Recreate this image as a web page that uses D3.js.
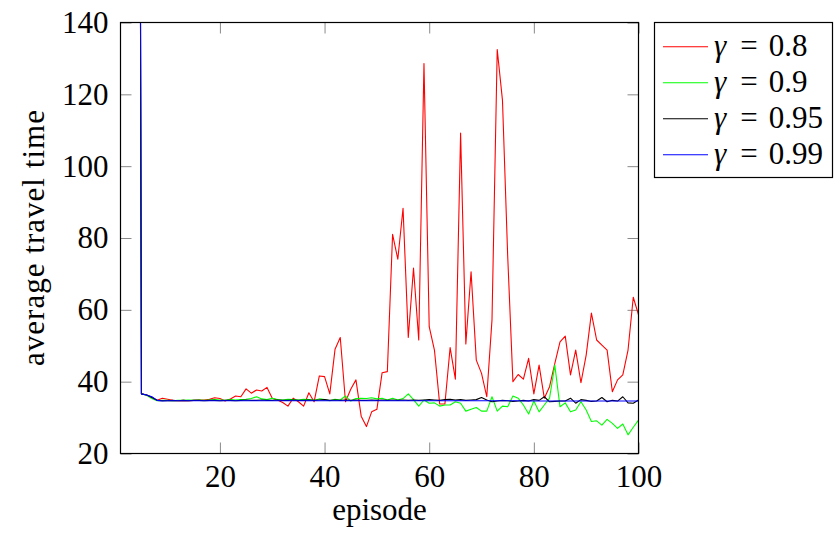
<!DOCTYPE html>
<html>
<head>
<meta charset="utf-8">
<script src="https://cdn.jsdelivr.net/npm/d3@7"></script>
<style>
  body { margin: 0; background: #fff; }
  svg text { font-family: "Liberation Serif", "DejaVu Serif", serif; fill: #000; }
</style>
</head>
<body>
<svg id="chart" width="834" height="533"></svg>
<script>
//=================== DATA ====================================
var episodes = [1, 2, 3, 4, 5, 6, 7, 8, 9, 10,
    11, 12, 13, 14, 15, 16, 17, 18, 19, 20,
    21, 22, 23, 24, 25, 26, 27, 28, 29, 30,
    31, 32, 33, 34, 35, 36, 37, 38, 39, 40,
    41, 42, 43, 44, 45, 46, 47, 48, 49, 50,
    51, 52, 53, 54, 55, 56, 57, 58, 59, 60,
    61, 62, 63, 64, 65, 66, 67, 68, 69, 70,
    71, 72, 73, 74, 75, 76, 77, 78, 79, 80,
    81, 82, 83, 84, 85, 86, 87, 88, 89, 90,
    91, 92, 93, 94, 95, 96, 97, 98, 99, 100];

// average travel time per episode, one array per discount factor
var gamma08 = [1850, 1400, 980, 640, 36.6, 36.3, 35.6, 34.8, 35.4, 35.1,
    34.8, 34.7, 34.8, 34.7, 34.8, 34.9, 34.9, 35.1, 35.5, 35.3,
    34.6, 35.2, 36.0, 35.8, 38.0, 36.8, 37.7, 37.4, 38.4, 35.4,
    34.9, 34.2, 33.2, 35.4, 34.4, 33.2, 36.9, 34.4, 41.6, 41.4,
    36.6, 49.0, 52.3, 34.4, 37.9, 40.5, 30.4, 27.5, 31.6, 32.3,
    42.5, 42.8, 81.0, 74.1, 88.3, 52.3, 71.6, 51.6, 128.6, 55.3,
    48.8, 33.8, 33.8, 49.5, 40.7, 109.2, 50.5, 70.6, 46.0, 42.3,
    35.8, 57.2, 132.5, 118.4, 75.0, 40.0, 42.0, 40.7, 46.5, 36.6,
    44.6, 35.4, 38.6, 45.0, 51.1, 52.7, 41.9, 48.8, 39.7, 47.4,
    59.1, 51.6, 50.2, 48.8, 37.2, 40.5, 41.9, 48.8, 63.5, 58.6];

var gamma09 = [1820, 1380, 960, 630, 36.6, 36.2, 35.3, 34.7, 34.8, 34.8,
    34.7, 34.8, 34.8, 34.9, 34.8, 34.9, 34.8, 34.9, 35.0, 34.9,
    34.8, 35.0, 34.9, 35.0, 35.1, 35.3, 35.8, 35.2, 35.0, 35.4,
    35.0, 34.9, 35.1, 35.0, 34.9, 35.1, 35.0, 34.8, 35.2, 35.0,
    34.7, 35.1, 34.9, 36.0, 34.6, 35.3, 35.4, 35.3, 35.5, 35.2,
    35.4, 34.9, 35.4, 34.9, 35.3, 36.6, 35.0, 33.2, 34.9, 34.0,
    34.1, 33.2, 33.5, 33.5, 34.4, 34.0, 31.8, 32.3, 32.8, 31.8,
    31.8, 35.8, 31.8, 33.2, 33.0, 36.0, 35.4, 33.5, 31.0, 34.6,
    31.6, 33.5, 35.4, 44.6, 33.0, 34.1, 31.6, 32.1, 34.4, 32.1,
    28.9, 29.1, 27.9, 29.5, 28.4, 27.0, 28.2, 25.2, 27.3, 29.3];

var gamma095 = [1800, 1360, 950, 620, 36.6, 36.3, 35.6, 34.8, 34.7, 34.7,
    34.8, 34.7, 34.8, 34.7, 34.8, 34.8, 34.7, 34.8, 34.8, 34.7,
    34.8, 34.8, 34.7, 34.8, 34.9, 34.8, 34.8, 34.9, 34.8, 34.8,
    34.9, 34.8, 34.8, 34.9, 34.8, 34.8, 34.9, 34.8, 34.9, 35.0,
    34.8, 34.9, 34.8, 34.9, 34.8, 34.9, 34.8, 34.8, 34.9, 34.8,
    34.9, 34.8, 34.9, 34.8, 34.9, 34.8, 34.9, 34.8, 34.9, 35.0,
    34.9, 34.8, 35.0, 35.1, 34.9, 35.0, 34.8, 34.9, 35.0, 35.6,
    34.9, 34.4, 34.6, 34.8, 34.7, 34.5, 34.6, 34.8, 34.6, 35.0,
    34.8, 35.8, 34.4, 34.5, 34.6, 34.6, 35.4, 34.0, 35.0, 34.8,
    34.5, 34.6, 35.6, 34.4, 34.8, 34.6, 35.8, 34.1, 34.0, 34.9];

var gamma099 = [1780, 1340, 940, 610, 36.6, 36.3, 35.8, 34.8, 34.6, 34.7,
    34.7, 34.7, 34.7, 34.7, 34.7, 34.7, 34.7, 34.7, 34.7, 34.7,
    34.7, 34.7, 34.7, 34.7, 34.7, 34.7, 34.7, 34.7, 34.7, 34.7,
    34.7, 34.7, 34.7, 34.7, 34.7, 34.7, 34.7, 34.7, 34.7, 34.7,
    34.7, 34.7, 34.7, 34.7, 34.7, 34.7, 34.7, 34.7, 34.7, 34.7,
    34.7, 34.7, 34.7, 34.7, 34.7, 34.7, 34.7, 34.7, 34.7, 34.7,
    34.7, 34.7, 34.7, 34.7, 34.7, 34.7, 34.7, 34.7, 34.7, 34.7,
    34.7, 34.7, 34.7, 34.7, 34.7, 34.7, 34.7, 34.6, 34.7, 34.6,
    34.6, 34.6, 34.6, 34.6, 34.6, 34.6, 34.6, 34.6, 34.6, 34.6,
    34.6, 34.6, 34.6, 34.6, 34.6, 34.6, 34.6, 34.6, 34.6, 34.6];

var seriesLabels = ["0.8", "0.9", "0.95", "0.99"];
var xTicks = [20, 40, 60, 80, 100];
var yTicks = [20, 40, 60, 80, 100, 120, 140];

//=================== LAYOUT ====================================
var series = [gamma08, gamma09, gamma095, gamma099];
var colours = ["#ff0000", "#00ff00", "#000000", "#0000ff"];

var plotLeft = 120.5, plotRight = 638.5, plotTop = 22.5, plotBottom = 453.5;
var tickLen = 11;
var fontSize = 31;

var svg = d3.select("#chart");

var x = d3.scaleLinear().domain([1, 100]).range([plotLeft, plotRight]);
var y = d3.scaleLinear().domain([20, 140]).range([plotBottom, plotTop]);

//clip the lines to the axis box (first episodes are far above 140)
svg.append("clipPath").attr("id", "plotClip")
    .append("rect")
    .attr("x", plotLeft).attr("y", plotTop)
    .attr("width", plotRight - plotLeft).attr("height", plotBottom - plotTop);

//=================== AXES ====================================
function styleAxis(g) {
    g.select(".domain").remove();
    g.selectAll(".tick line").attr("stroke", "#8a8a8a").attr("stroke-width", 1);
    g.attr("font-family", null).attr("font-size", fontSize);
    g.selectAll(".tick text").attr("fill", "#000");
}

svg.append("g")
    .attr("transform", "translate(0," + plotBottom + ")")
    .call(d3.axisBottom(x).tickValues(xTicks).tickSize(-tickLen).tickPadding(11))
    .call(styleAxis);

svg.append("g")
    .attr("transform", "translate(0," + plotTop + ")")
    .call(d3.axisTop(x).tickValues(xTicks).tickSize(-tickLen).tickFormat(""))
    .call(styleAxis);

svg.append("g")
    .attr("transform", "translate(" + plotLeft + ",0)")
    .call(d3.axisLeft(y).tickValues(yTicks).tickSize(-tickLen).tickPadding(12))
    .call(styleAxis);

svg.append("g")
    .attr("transform", "translate(" + plotRight + ",0)")
    .call(d3.axisRight(y).tickValues(yTicks).tickSize(-tickLen).tickFormat(""))
    .call(styleAxis);

//=================== LINES ====================================
var lineGen = d3.line()
    .x(function (d, i) { return x(episodes[i]); })
    .y(function (d) { return y(d); });

svg.append("g")
    .attr("clip-path", "url(#plotClip)")
    .selectAll("path")
    .data(series)
    .enter()
    .append("path")
    .attr("d", lineGen)
    .attr("fill", "none")
    .attr("stroke", function (d, i) { return colours[i]; })
    .attr("stroke-width", 1.1)
    .attr("stroke-linejoin", "round");

//axis box on top
svg.append("rect")
    .attr("x", plotLeft).attr("y", plotTop)
    .attr("width", plotRight - plotLeft).attr("height", plotBottom - plotTop)
    .attr("fill", "none")
    .attr("stroke", "#000")
    .attr("stroke-width", 1.2);

//axis titles
svg.append("text")
    .attr("x", (plotLeft + plotRight) / 2)
    .attr("y", 520)
    .attr("text-anchor", "middle")
    .attr("font-size", fontSize)
    .text("episode");

// the original font is wider, stretch the spacing a bit
svg.append("text")
    .attr("transform", "translate(44," + (plotTop + plotBottom) / 2 + ") rotate(-90)")
    .attr("text-anchor", "middle")
    .attr("font-size", fontSize)
    .attr("textLength", 256)
    .attr("lengthAdjust", "spacing")
    .text("average travel time");

//=================== LEGEND ====================================
var legend = svg.append("g");

legend.append("rect")
    .attr("x", 654.5).attr("y", 22.5)
    .attr("width", 178).attr("height", 155)
    .attr("fill", "#fff")
    .attr("stroke", "#000")
    .attr("stroke-width", 1.2);

var rows = legend.selectAll("g.entry")
    .data(seriesLabels)
    .enter()
    .append("g")
    .attr("class", "entry")
    .attr("transform", function (d, i) { return "translate(0," + (55.5 + i * 36) + ")"; });

rows.append("line")
    .attr("x1", 663).attr("x2", 708)
    .attr("y1", -8.8).attr("y2", -8.8)
    .attr("stroke", function (d, i) { return colours[i]; })
    .attr("stroke-width", 1.1);

var label = rows.append("text")
    .attr("x", 714)
    .attr("font-size", fontSize);
label.append("tspan").attr("font-style", "italic").text("γ");
label.append("tspan").attr("dx", 14).text("=");
label.append("tspan").attr("dx", 11).text(function (d) { return d; });
</script>
</body>
</html>
